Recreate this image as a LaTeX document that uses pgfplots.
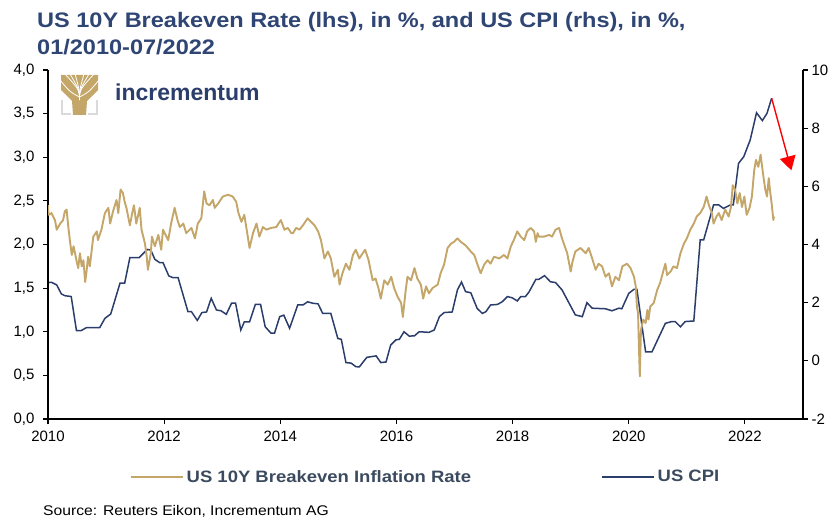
\documentclass[border=0pt]{standalone}
\usepackage{fontspec}
\setmainfont{Liberation Sans}
\newfontfamily\wfont{Liberation Sans}[FakeStretch=1.12]
\usepackage{pgfplots}
\pgfplotsset{compat=1.18}
\usepackage{pgfplotstable}
\usetikzlibrary{arrows.meta}
\definecolor{bkgold}{HTML}{C4A669}
\definecolor{cpiblue}{HTML}{2B3D6B}
\definecolor{titleblue}{HTML}{2F4573}
\definecolor{legtext}{HTML}{3B4A5E}
\definecolor{logogrey}{HTML}{DADADA}

% US 10Y breakeven inflation rate, % (lhs)
\pgfplotstableread{
year be
2010.00 2.45
2010.01 2.34
2010.06 2.36
2010.12 2.28
2010.15 2.17
2010.21 2.24
2010.26 2.28
2010.29 2.38
2010.32 2.40
2010.35 2.20
2010.38 2.03
2010.41 1.88
2010.44 1.98
2010.49 1.82
2010.52 1.73
2010.55 1.90
2010.58 1.75
2010.61 1.82
2010.64 1.57
2010.66 1.67
2010.69 1.86
2010.72 1.75
2010.78 2.09
2010.84 2.15
2010.86 2.05
2010.92 2.17
2010.98 2.36
2011.04 2.42
2011.07 2.24
2011.12 2.38
2011.18 2.51
2011.21 2.36
2011.25 2.63
2011.29 2.59
2011.32 2.49
2011.35 2.42
2011.41 2.22
2011.45 2.36
2011.48 2.45
2011.52 2.24
2011.58 2.42
2011.61 2.17
2011.67 2.01
2011.70 1.86
2011.72 1.71
2011.77 1.90
2011.79 2.09
2011.84 1.98
2011.90 2.11
2011.95 1.94
2011.98 2.17
2012.07 2.05
2012.12 2.24
2012.18 2.42
2012.23 2.28
2012.27 2.20
2012.33 2.24
2012.38 2.13
2012.47 2.19
2012.53 2.07
2012.58 2.24
2012.64 2.30
2012.69 2.61
2012.73 2.47
2012.78 2.45
2012.84 2.51
2012.87 2.42
2012.93 2.47
2013.01 2.55
2013.10 2.57
2013.18 2.55
2013.24 2.49
2013.28 2.36
2013.33 2.26
2013.38 2.34
2013.44 2.09
2013.47 1.96
2013.53 2.13
2013.59 2.24
2013.64 2.09
2013.70 2.20
2013.76 2.17
2013.84 2.19
2013.93 2.20
2014.01 2.28
2014.07 2.17
2014.13 2.19
2014.19 2.13
2014.22 2.13
2014.27 2.19
2014.33 2.17
2014.39 2.22
2014.47 2.30
2014.53 2.26
2014.59 2.22
2014.65 2.15
2014.70 2.05
2014.76 1.84
2014.82 1.92
2014.87 1.84
2014.93 1.63
2014.99 1.71
2015.02 1.54
2015.07 1.67
2015.13 1.78
2015.19 1.71
2015.25 1.88
2015.30 1.94
2015.36 1.84
2015.42 1.90
2015.46 1.94
2015.52 1.82
2015.59 1.59
2015.64 1.61
2015.69 1.50
2015.73 1.38
2015.79 1.59
2015.85 1.54
2015.91 1.63
2015.96 1.50
2016.02 1.40
2016.08 1.33
2016.11 1.17
2016.16 1.48
2016.19 1.63
2016.25 1.59
2016.31 1.73
2016.36 1.61
2016.42 1.54
2016.46 1.38
2016.51 1.52
2016.56 1.44
2016.62 1.50
2016.71 1.54
2016.76 1.67
2016.82 1.77
2016.88 1.96
2016.94 2.01
2016.99 2.03
2017.05 2.07
2017.11 2.03
2017.19 1.99
2017.28 1.92
2017.34 1.88
2017.39 1.78
2017.45 1.67
2017.51 1.77
2017.57 1.82
2017.62 1.78
2017.68 1.86
2017.77 1.84
2017.85 1.88
2017.91 1.84
2017.97 1.98
2018.02 2.05
2018.08 2.15
2018.14 2.09
2018.20 2.05
2018.25 2.15
2018.31 2.19
2018.37 2.15
2018.40 2.03
2018.43 2.13
2018.45 2.09
2018.54 2.09
2018.63 2.11
2018.68 2.09
2018.74 2.17
2018.80 2.19
2018.85 2.07
2018.94 1.90
2019.00 1.69
2019.03 1.80
2019.08 1.92
2019.17 1.96
2019.26 1.90
2019.31 1.96
2019.37 1.84
2019.43 1.71
2019.48 1.78
2019.54 1.75
2019.60 1.63
2019.66 1.67
2019.71 1.52
2019.77 1.63
2019.83 1.59
2019.89 1.75
2019.97 1.78
2020.03 1.73
2020.09 1.63
2020.12 1.52
2020.14 1.29
2020.16 1.21
2020.17 0.94
2020.19 0.49
2020.21 1.02
2020.25 1.14
2020.29 1.10
2020.32 1.25
2020.34 1.14
2020.37 1.29
2020.43 1.33
2020.49 1.48
2020.54 1.56
2020.60 1.71
2020.63 1.78
2020.66 1.65
2020.72 1.69
2020.77 1.75
2020.83 1.73
2020.89 1.90
2020.95 2.01
2021.00 2.07
2021.06 2.17
2021.12 2.24
2021.17 2.32
2021.23 2.36
2021.29 2.43
2021.34 2.55
2021.38 2.45
2021.43 2.36
2021.46 2.24
2021.51 2.32
2021.55 2.36
2021.60 2.28
2021.66 2.40
2021.72 2.32
2021.76 2.43
2021.79 2.68
2021.83 2.63
2021.87 2.47
2021.91 2.59
2021.95 2.43
2021.99 2.55
2022.03 2.34
2022.08 2.42
2022.12 2.55
2022.16 2.85
2022.19 2.97
2022.23 2.89
2022.27 3.03
2022.31 2.82
2022.35 2.63
2022.38 2.55
2022.41 2.76
2022.43 2.63
2022.46 2.47
2022.49 2.28
2022.50 2.32
}\breakeven

% US CPI, % yoy (rhs)
\pgfplotstableread{
year cpi
2010.00 2.69
2010.06 2.70
2010.15 2.61
2010.23 2.30
2010.29 2.24
2010.40 2.21
2010.49 1.04
2010.57 1.04
2010.66 1.14
2010.89 1.14
2010.98 1.46
2011.08 1.61
2011.24 2.67
2011.32 2.67
2011.41 3.55
2011.57 3.55
2011.71 3.83
2011.77 3.81
2011.84 3.49
2011.92 3.38
2011.98 3.38
2012.08 2.92
2012.15 2.86
2012.24 2.86
2012.41 1.69
2012.47 1.69
2012.57 1.39
2012.65 1.66
2012.73 1.68
2012.81 2.15
2012.90 1.75
2012.98 1.72
2013.07 1.60
2013.16 1.98
2013.23 1.98
2013.32 1.06
2013.38 1.34
2013.47 1.34
2013.57 1.94
2013.66 1.94
2013.74 1.17
2013.84 0.95
2013.90 0.95
2013.99 1.52
2014.06 1.57
2014.16 1.12
2014.30 1.92
2014.39 1.92
2014.47 2.03
2014.56 1.98
2014.65 1.96
2014.73 1.63
2014.87 1.63
2014.99 0.77
2015.05 0.74
2015.13 -0.06
2015.22 -0.08
2015.30 -0.20
2015.36 -0.21
2015.49 0.12
2015.65 0.17
2015.73 -0.06
2015.82 -0.04
2015.90 0.54
2015.99 0.72
2016.05 0.74
2016.13 1.00
2016.22 0.85
2016.31 0.86
2016.39 1.00
2016.56 0.98
2016.65 1.06
2016.74 1.52
2016.82 1.66
2016.96 1.68
2017.05 2.44
2017.12 2.71
2017.19 2.38
2017.28 2.34
2017.39 1.80
2017.48 1.63
2017.54 1.69
2017.62 1.92
2017.74 1.94
2017.82 2.03
2017.91 2.21
2017.99 2.17
2018.08 2.06
2018.14 2.21
2018.22 2.21
2018.28 2.36
2018.40 2.80
2018.45 2.80
2018.55 2.93
2018.65 2.72
2018.74 2.69
2018.85 2.44
2019.08 1.58
2019.20 1.52
2019.28 2.00
2019.37 1.81
2019.60 1.79
2019.71 1.72
2019.83 1.81
2019.88 1.79
2020.00 2.32
2020.09 2.46
2020.14 2.46
2020.29 0.31
2020.40 0.31
2020.63 1.29
2020.74 1.35
2020.80 1.35
2020.89 1.17
2020.97 1.35
2021.12 1.37
2021.23 4.16
2021.29 4.16
2021.46 5.36
2021.55 5.36
2021.63 5.24
2021.75 5.36
2021.80 5.36
2021.89 6.79
2021.98 7.02
2022.09 7.59
2022.20 8.53
2022.30 8.26
2022.38 8.51
2022.46 9.03
}\cpi

\pgfplotsset{
  incr/.style={
    scale only axis, width=755pt, height=349pt,
    at={(48pt,-419pt)}, anchor=south west,
    xmin=2010, xmax=2023,
    axis line style={black, line width=1.3pt, -},
    every outer x axis line/.append style={-},
    every outer y axis line/.append style={-},
    tick style={black, line width=1.1pt},
    tick align=outside, major tick length=5pt,
    minor tick num=0,
    tick label style={font=\fontsize{15}{18}\selectfont, text=black},
  },
}

\begin{document}
\begin{tikzpicture}
\useasboundingbox (0pt,0pt) rectangle (831pt,-519pt);

% CPI on the right axis
\begin{axis}[incr,
  hide x axis, axis y line*=right,
  ymin=-2, ymax=10,
  ytick={-2,0,2,4,6,8,10},
  yticklabels={-2,0,2,4,6,8,10},
]
\addplot[cpiblue, line width=1.5pt] table[x=year, y=cpi] {\cpi};
\draw[red, line width=1.4pt, -{Triangle[length=14pt, width=16pt]}]
  (axis cs:2022.46,9.03) -- (axis cs:2022.80,6.55);
\end{axis}

% breakeven on the left axis
\begin{axis}[incr,
  axis x line*=bottom, axis y line*=left,
  ymin=0, ymax=4,
  ytick={0,0.5,1,1.5,2,2.5,3,3.5,4},
  yticklabels={{0,0},{0,5},{1,0},{1,5},{2,0},{2,5},{3,0},{3,5},{4,0}},
  xtick={2010,2012,2014,2016,2018,2020,2022},
  xticklabels={2010,2012,2014,2016,2018,2020,2022},
  yticklabel style={xshift=-5pt},
  xticklabel style={yshift=-3pt},
  legend columns=2,
  legend cell align=left,
  legend image code/.code={\draw[#1, line width=1.5pt] (0pt,0pt) -- (52pt,0pt);},
  legend style={at={(axis description cs:0.1086,-0.166)}, anchor=west,
    draw=none, fill=none, inner sep=0pt,
    nodes={inner sep=3pt},
    font=\wfont\fontsize{16.5}{20}\selectfont\bfseries, text=legtext,
    /tikz/every even column/.append style={column sep=127pt}},
]
\addplot[bkgold, line width=1.9pt, line join=round] table[x=year, y=be] {\breakeven};
\addlegendentry{US 10Y Breakeven Inflation Rate}
\addlegendimage{cpiblue}
\addlegendentry{US CPI}
\end{axis}

\begin{scope}[x=1pt, y=-1pt]
% title
\node[anchor=base west, inner sep=0pt, text=titleblue,
  font=\wfont\fontsize{21}{25}\selectfont\bfseries] at (37,28)
  {US 10Y Breakeven Rate (lhs), in \%, and US CPI (rhs), in \%,};
\node[anchor=base west, inner sep=0pt, text=titleblue,
  font=\wfont\fontsize{21}{25}\selectfont\bfseries] at (37,55)
  {01/2010-07/2022};
% logo
\draw[logogrey, line width=2pt] (62,100) -- (62,114) -- (71,114);
\draw[logogrey, line width=2pt] (88,114) -- (97,114) -- (97,100);
\fill[bkgold] (61,75) -- (98,75) -- (98,90) -- (87,101) -- (86,115) -- (73,115)
  -- (72,101) -- (61,90) -- cycle;
\foreach \tx in {65,70,75,84,89,94}
  \draw[white, line width=0.8pt] (79.5,100) .. controls (79.5,90) .. (\tx,74);
\draw[white, line width=0.8pt] (79.5,97) .. controls (70,92) .. (60,80);
\draw[white, line width=0.8pt] (79.5,97) .. controls (89,92) .. (99,80);
\node[anchor=base west, inner sep=0pt, text=cpiblue,
  font=\fontsize{23}{27}\selectfont\bfseries] at (115,101) {incrementum};
% source
\node[anchor=base west, inner sep=0pt, text=black,
  font=\wfont\fontsize{14}{17}\selectfont] at (43,515)
  {Source: Reuters Eikon, Incrementum AG};
\end{scope}
\end{tikzpicture}
\end{document}
